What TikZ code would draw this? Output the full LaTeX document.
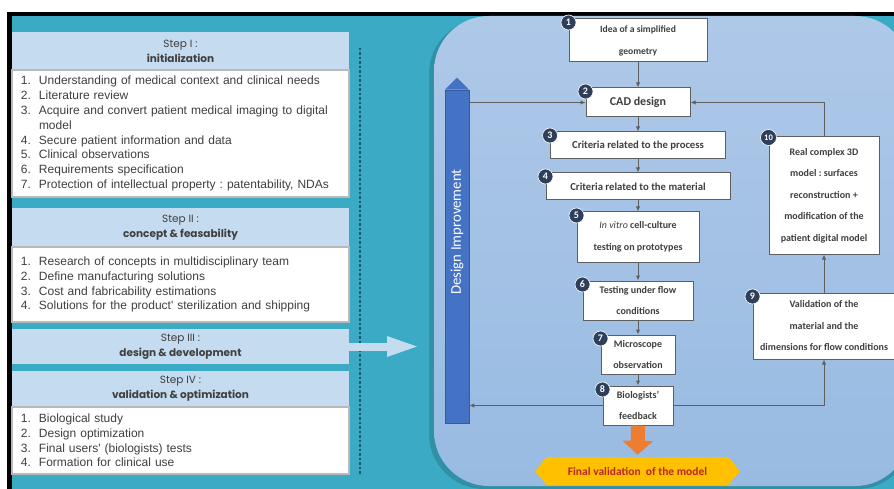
\documentclass[tikz,border=0pt]{standalone}
\usepackage{fontspec}
\setmainfont{Carlito}
\newfontfamily\listfont{Liberation Sans}
\newfontfamily\headfont{Poppins}
\usetikzlibrary{arrows.meta,shapes.symbols}
\frenchspacing

\definecolor{bgteal}{HTML}{3BAAC4}
\definecolor{headblue}{HTML}{C5DBF0}
\definecolor{panetop}{HTML}{AEC8E8}
\definecolor{panebot}{HTML}{98BBE2}
\definecolor{barblue}{HTML}{4472C4}
\definecolor{badgeblue}{HTML}{2E3F5C}
\definecolor{linegray}{HTML}{5F5F5F}
\definecolor{txtgray}{HTML}{3F3F3F}
\definecolor{orangearr}{HTML}{ED7D31}
\definecolor{goldfill}{HTML}{FFC000}
\definecolor{redtxt}{HTML}{B8281E}
\definecolor{dotline}{HTML}{1E5A6E}

\newcommand\itm[1]{\makebox[10pt][r]{#1}\hspace*{8pt}}

\tikzset{
  stephead/.style={fill=headblue, minimum width=337pt, inner sep=0pt, align=center,
    text=txtgray, font=\headfont\fontsize{10.5}{15}\selectfont},
  steplist/.style={fill=white, draw=gray!55, line width=1.5pt, minimum width=337pt,
    text width=319pt, inner xsep=9pt, align=left, text=txtgray,
    font=\listfont\fontsize{12}{14.8}\selectfont},
  flowbox/.style={fill=white, draw=linegray, line width=1pt, inner sep=0pt, align=center,
    text=txtgray, font=\bfseries\fontsize{10}{21.5}\selectfont},
  badge/.style={circle, fill=badgeblue, draw=white, line width=0.6pt, inner sep=0pt,
    minimum size=15pt, text=white, font=\bfseries\fontsize{10}{10}\selectfont},
  link/.style={draw=linegray, line width=1pt, -{Latex[length=5pt,width=4.5pt]}}
}

\begin{document}
\begin{tikzpicture}[x=1pt,y=-1pt]
  \clip (0,0) rectangle (894,489);

  % frame and background
  \fill[white] (0,0) rectangle (894,489);
  \fill[black] (7,12) rectangle (894,489);
  \fill[bgteal] (12,16) rectangle (894,489);

  % left column : steps
  \node[stephead, minimum height=38pt] (step1) at (180.5,51)
    {Step I :\\\textbf{initialization}};
  \node[steplist, minimum height=127pt] (list1) at (180.5,133.5)
    {\itm{1.}Understanding of medical context and clinical needs\\
     \itm{2.}Literature review\\
     \itm{3.}Acquire and convert patient medical imaging to digital\\
     \itm{}model\\
     \itm{4.}Secure patient information and data\\
     \itm{5.}Clinical observations\\
     \itm{6.}Requirements specification\\
     \itm{7.}Protection of intellectual property : patentability, NDAs};

  \node[stephead, minimum height=39pt] (step2) at (180.5,227.5)
    {Step II :\\\textbf{concept \& feasability}};
  \node[steplist, minimum height=75pt] (list2) at (180.5,284.5)
    {\itm{1.}Research of concepts in multidisciplinary team\\
     \itm{2.}Define manufacturing solutions\\
     \itm{3.}Cost and fabricability estimations\\
     \itm{4.}Solutions for the product' sterilization and shipping};

  \node[stephead, minimum height=35pt] (step3) at (180.5,346.5)
    {Step III :\\\textbf{design \& development}};
  \node[stephead, minimum height=36pt] (step4) at (180.5,389)
    {Step IV :\\\textbf{validation \& optimization}};
  \node[steplist, minimum height=67pt] (list4) at (180.5,440.5)
    {\itm{1.}Biological study\\
     \itm{2.}Design optimization\\
     \itm{3.}Final users' (biologists) tests\\
     \itm{4.}Formation for clinical use};

  \draw[dotline, line width=1.2pt, dash pattern=on 2.5pt off 2pt] (360,48) -- (360,474);

  \coordinate (entry) at (420,346.5);
  \draw[headblue, line width=8pt, -{Triangle[width=18pt,length=33pt]}] (step3.east) -- (entry);

  % right panel
  \fill[bgteal!70!black, opacity=.5, rounded corners=55pt] (429,19) rectangle (912,489);
  \shade[top color=panetop, bottom color=panebot, rounded corners=55pt] (434,16) rectangle (910,486);

  % design improvement arrow
  \node[fill=barblue, draw=barblue!80!black, line width=.5pt, minimum width=24pt,
        minimum height=333pt, inner sep=0pt] (bar) at (457,256.5) {};
  \fill[barblue] (bar.north west) -- ([yshift=12pt]bar.north) -- (bar.north east) -- cycle;
  \node[rotate=90, text=white, font=\fontsize{14.8}{14.8}\selectfont] (barlabel) at (457,232)
    {Design Improvement};

  % flow boxes
  \node[flowbox, minimum width=138pt, minimum height=43pt, font=\bfseries\fontsize{9.6}{22}\selectfont]
    (1) at (638,40.5) {Idea of a simplified\\geometry};
  \node[flowbox, minimum width=104pt, minimum height=29pt, font=\bfseries\fontsize{12}{13}\selectfont]
    (2) at (638,102.5) {CAD design};
  \node[flowbox, minimum width=175pt, minimum height=27pt, font=\bfseries\fontsize{10.7}{13}\selectfont]
    (3) at (638,145.5) {Criteria related to the process};
  \node[flowbox, minimum width=184pt, minimum height=27pt, font=\bfseries\fontsize{10.7}{13}\selectfont]
    (4) at (638,186.5) {Criteria related to the material};
  \node[flowbox, minimum width=122pt, minimum height=50pt] (5) at (638,237)
    {\textmd{\textit{In vitro}} cell-culture\\testing on prototypes};
  \node[flowbox, minimum width=110pt, minimum height=39pt] (6) at (638,300.5)
    {Testing under flow\\conditions};
  \node[flowbox, minimum width=74pt, minimum height=39pt] (7) at (638,354.5)
    {Microscope\\observation};
  \node[flowbox, minimum width=70pt, minimum height=39pt] (8) at (638,405.5)
    {Biologists'\\feedback};
  \node[flowbox, minimum width=142pt, minimum height=66pt] (9) at (824,326)
    {Validation of the\\material and the\\dimensions for flow conditions};
  \node[flowbox, minimum width=110pt, minimum height=117pt] (10) at (824,195.5)
    {Real complex 3D\\model : surfaces\\reconstruction +\\modification of the\\patient digital model};

  % numbers
  \foreach \n in {1,...,9}
    \node[badge] at ([yshift=-4pt]\n.north west) {\n};
  \node[badge, minimum size=16pt, font=\bfseries\fontsize{8.5}{8.5}\selectfont]
    at ([yshift=-1pt]10.north west) {10};

  % connectors
  \foreach \a/\b in {1/2,2/3,3/4,4/5,5/6,6/7,7/8}
    \draw[link] (\a) -- (\b);
  \draw[link] (bar.east |- 2.west) -- (2.west);
  \draw[link] (10.north) |- (2.east);
  \draw[link] (8.west) -- (8.west -| bar.east);
  \draw[link] (8.east) -| (9.south);
  \draw[link] (9.north) -- (10.south);

  % final validation
  \node[signal, signal to=west and east, signal pointer angle=100, fill=goldfill,
        minimum width=205pt, minimum height=28pt, inner sep=0pt, text=redtxt,
        font=\bfseries\fontsize{11.5}{11.5}\selectfont] (final) at (637.5,471)
    {Final validation\ \ of the model};
  \draw[orangearr, line width=14pt, -{Triangle[width=30pt,length=14pt]}]
    (8.south) -- ([yshift=2pt]final.north);

\end{tikzpicture}
\end{document}
